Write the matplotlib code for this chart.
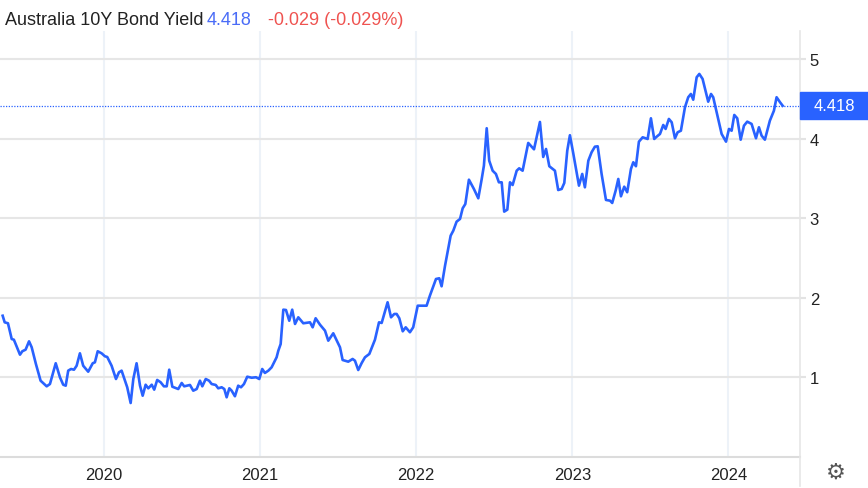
import matplotlib
matplotlib.use('Agg')
from matplotlib import pyplot as plt
from matplotlib.lines import Line2D
from matplotlib.patches import Rectangle
from matplotlib import transforms

plt.rcParams['font.family'] = ['Liberation Sans', 'DejaVu Sans']

# Australia 10Y bond yield (x in decimal years)
years = [
    2019.351, 2019.364, 2019.385, 2019.409, 2019.423, 2019.462, 2019.477, 2019.498,
    2019.520, 2019.537, 2019.564, 2019.594, 2019.633, 2019.654, 2019.691, 2019.718,
    2019.739, 2019.755, 2019.771, 2019.789, 2019.808, 2019.825, 2019.846, 2019.867,
    2019.899, 2019.928, 2019.942, 2019.960, 2019.985, 2020.006, 2020.021, 2020.049,
    2020.077, 2020.096, 2020.113, 2020.135, 2020.149, 2020.171, 2020.188, 2020.209,
    2020.231, 2020.248, 2020.267, 2020.284, 2020.306, 2020.322, 2020.341, 2020.363,
    2020.384, 2020.402, 2020.418, 2020.438, 2020.476, 2020.498, 2020.514, 2020.551,
    2020.572, 2020.594, 2020.615, 2020.630, 2020.652, 2020.673, 2020.690, 2020.716,
    2020.732, 2020.754, 2020.771, 2020.786, 2020.803, 2020.818, 2020.839, 2020.860,
    2020.878, 2020.897, 2020.918, 2020.946, 2020.974, 2020.995, 2021.014, 2021.031,
    2021.053, 2021.074, 2021.106, 2021.117, 2021.132, 2021.149, 2021.166, 2021.187,
    2021.206, 2021.224, 2021.245, 2021.277, 2021.320, 2021.337, 2021.356, 2021.384,
    2021.416, 2021.437, 2021.469, 2021.495, 2021.512, 2021.529, 2021.565, 2021.593,
    2021.608, 2021.629, 2021.651, 2021.672, 2021.700, 2021.736, 2021.762, 2021.779,
    2021.817, 2021.839, 2021.860, 2021.875, 2021.892, 2021.914, 2021.933, 2021.960,
    2021.981, 2022.010, 2022.067, 2022.088, 2022.127, 2022.148, 2022.163, 2022.185,
    2022.221, 2022.238, 2022.259, 2022.281, 2022.298, 2022.315, 2022.338, 2022.370,
    2022.398, 2022.420, 2022.434, 2022.452, 2022.468, 2022.490, 2022.511, 2022.530,
    2022.548, 2022.564, 2022.584, 2022.601, 2022.618, 2022.644, 2022.660, 2022.682,
    2022.718, 2022.755, 2022.793, 2022.814, 2022.832, 2022.853, 2022.889, 2022.910,
    2022.932, 2022.949, 2022.968, 2022.985, 2023.006, 2023.043, 2023.064, 2023.081,
    2023.103, 2023.124, 2023.145, 2023.163, 2023.188, 2023.216, 2023.242, 2023.256,
    2023.278, 2023.295, 2023.312, 2023.333, 2023.352, 2023.376, 2023.391, 2023.408,
    2023.427, 2023.451, 2023.483, 2023.504, 2023.525, 2023.541, 2023.562, 2023.583,
    2023.598, 2023.619, 2023.637, 2023.658, 2023.675, 2023.696, 2023.722, 2023.743,
    2023.760, 2023.775, 2023.797, 2023.814, 2023.835, 2023.871, 2023.889, 2023.903,
    2023.925, 2023.957, 2023.985, 2024.004, 2024.021, 2024.038, 2024.057, 2024.079,
    2024.100, 2024.121, 2024.149, 2024.177, 2024.196, 2024.213, 2024.234, 2024.266,
    2024.292, 2024.309, 2024.331, 2024.348,
]
yields = [
    1.777, 1.694, 1.682, 1.484, 1.475, 1.287, 1.330, 1.350,
    1.455, 1.380, 1.170, 0.960, 0.889, 0.918, 1.179, 1.003,
    0.909, 0.897, 1.086, 1.107, 1.098, 1.148, 1.304, 1.148,
    1.073, 1.179, 1.191, 1.330, 1.304, 1.267, 1.258, 1.148,
    0.981, 1.065, 1.086, 0.960, 0.877, 0.679, 0.981, 1.179,
    0.897, 0.771, 0.909, 0.864, 0.909, 0.847, 0.969, 0.940,
    0.889, 0.889, 1.098, 0.884, 0.855, 0.931, 0.889, 0.906,
    0.834, 0.855, 0.960, 0.889, 0.981, 0.960, 0.918, 0.906,
    0.864, 0.877, 0.855, 0.751, 0.864, 0.834, 0.764, 0.897,
    0.877, 0.918, 1.010, 0.997, 1.003, 0.981, 1.107, 1.057,
    1.086, 1.128, 1.254, 1.337, 1.421, 1.853, 1.849, 1.714,
    1.853, 1.673, 1.757, 1.682, 1.694, 1.631, 1.745, 1.664,
    1.589, 1.463, 1.556, 1.450, 1.380, 1.220, 1.199, 1.233,
    1.211, 1.094, 1.182, 1.254, 1.296, 1.475, 1.694, 1.686,
    1.946, 1.757, 1.799, 1.799, 1.745, 1.581, 1.631, 1.569,
    1.631, 1.903, 1.903, 2.029, 2.239, 2.248, 2.147, 2.406,
    2.784, 2.847, 2.960, 2.994, 3.128, 3.182, 3.488, 3.371,
    3.254, 3.497, 3.664, 4.135, 3.727, 3.601, 3.560, 3.455,
    3.455, 3.086, 3.111, 3.455, 3.421, 3.601, 3.631, 3.601,
    3.950, 3.870, 4.214, 3.774, 3.874, 3.657, 3.601, 3.358,
    3.371, 3.447, 3.853, 4.047, 3.824, 3.413, 3.560, 3.392,
    3.727, 3.833, 3.903, 3.908, 3.560, 3.233, 3.224, 3.195,
    3.350, 3.497, 3.279, 3.400, 3.330, 3.623, 3.707, 3.657,
    3.966, 4.021, 4.000, 4.260, 4.000, 4.029, 4.063, 4.176,
    4.126, 4.252, 4.210, 4.009, 4.084, 4.104, 4.399, 4.525,
    4.566, 4.494, 4.776, 4.818, 4.755, 4.469, 4.566, 4.525,
    4.336, 4.063, 3.966, 4.126, 4.104, 4.302, 4.260, 3.991,
    4.167, 4.218, 4.189, 4.009, 4.147, 4.042, 3.991, 4.230,
    4.356, 4.525, 4.462, 4.418,
]

last_value = 4.418
change = -0.029
change_pct = -0.029

year_ticks = [2020, 2021, 2022, 2023, 2024]
yield_ticks = [1, 2, 3, 4, 5]

line_blue = '#2962ff'
W, H = 868, 489

fig = plt.figure(figsize=(W / 100, H / 100), dpi=100)
ax = fig.add_axes([0, 31 / H, 800 / W, 426 / H])

ax.plot(years, yields, color=line_blue, lw=1.9, solid_joinstyle='round', zorder=3)
ax.axhline(last_value, color=line_blue, lw=0.9, ls=(0, (1, 1.2)), zorder=2)

ax.set_xlim(2019.334, 2024.459)
ax.set_ylim(0, 5.358)
ax.set_xticks(year_ticks)
ax.set_xticklabels([str(v) for v in year_ticks])
ax.set_yticks(yield_ticks)
ax.yaxis.tick_right()
ax.tick_params(axis='x', length=0, pad=7, labelsize=12, labelcolor='#222222')
ax.tick_params(axis='y', length=4, width=1.5, pad=3, labelsize=12,
               color='#e3e3e3', labelcolor='#222222')

ax.grid(axis='y', color='#e6e6e6', lw=1.5)
ax.grid(axis='x', color='#edf2f8', lw=1.5)
ax.set_axisbelow(True)

for s in ['left', 'top']:
    ax.spines[s].set_visible(False)
ax.spines['bottom'].set_color('#dcdcdc')
ax.spines['bottom'].set_linewidth(1.5)
ax.spines['right'].set_color('#e6e6e6')
ax.spines['right'].set_linewidth(1.2)

# right axis line runs down past the plot
fig.add_artist(Line2D([800 / W, 800 / W], [2 / H, 31 / H], transform=fig.transFigure,
                      color='#e6e6e6', lw=1.2))

# last value box on the axis
trans = transforms.blended_transform_factory(ax.transAxes, ax.transData)
box_h = 27 / 79.5
ax.add_patch(Rectangle((1.0, last_value - box_h / 2), 68 / 800, box_h, transform=trans,
                       color=line_blue, clip_on=False, zorder=5))
ax.text(1.0 + 34 / 800, last_value, '%.3f' % last_value, transform=trans, color='white',
        fontsize=12, ha='center', va='center', zorder=6)

# title line
base = 1 - 25 / H
fig.text(5 / W, base, 'Australia 10Y Bond Yield', color='#222222', fontsize=13, va='baseline')
fig.text(207 / W, base, '%.3f' % last_value, color='#4a6cf7', fontsize=13, va='baseline')
fig.text(268 / W, base, '%.3f (%.3f%%)' % (change, change_pct), color='#ef5350',
         fontsize=13, va='baseline')

# settings gear
fig.text(836 / W, 1 - 473 / H, '\u2699', color='#555555', fontsize=16, ha='center',
         va='center', family='DejaVu Sans')

fig.savefig('out.png', dpi=100)
